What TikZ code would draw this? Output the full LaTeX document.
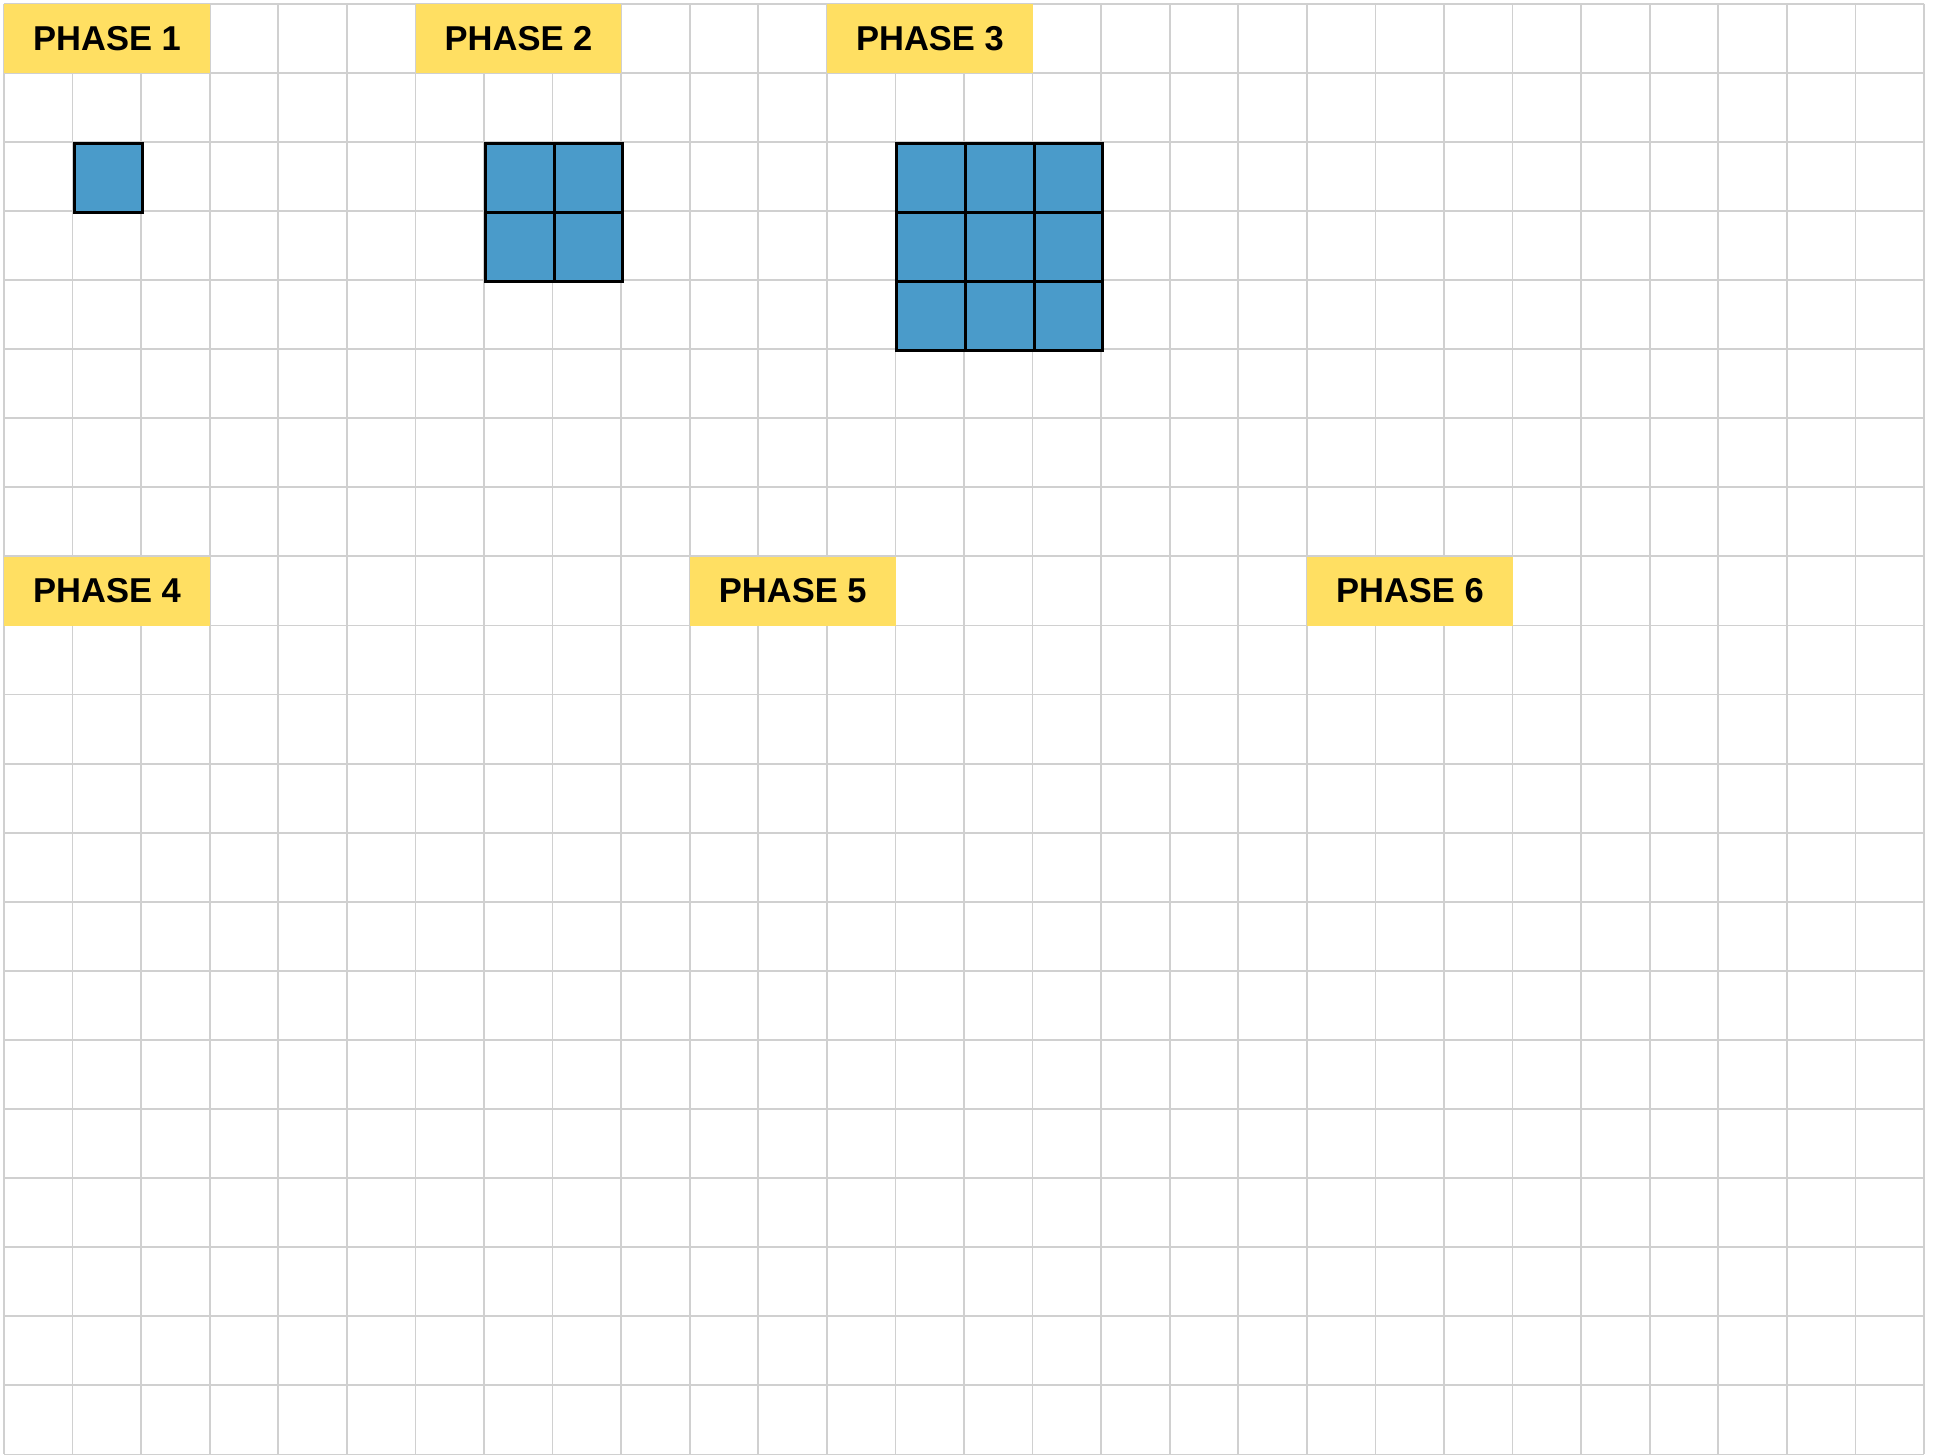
\documentclass[tikz,border=0pt]{standalone}
\usepackage{fontspec}
\setmainfont{Liberation Sans}
\definecolor{gridgray}{HTML}{D0D0D0}
\definecolor{phaseyellow}{HTML}{FFDF62}
\definecolor{cellblue}{HTML}{4A9BCA}
\begin{document}
\begin{tikzpicture}[x=68.57pt, y=-69.08pt,
  gridline/.style={draw=gridgray, line width=1.8pt},
  phase/.style={fill=phaseyellow, draw=none, anchor=north west, inner sep=0pt,
    minimum width=205.71pt, minimum height=69.08pt,
    font=\fontsize{34.5}{34.5}\selectfont\bfseries},
  bluecell/.style={fill=cellblue, draw=black, line width=3pt, anchor=north west,
    inner sep=0pt, minimum width=68.57pt, minimum height=69.08pt}]
\useasboundingbox (-0.0583,-0.0536) rectangle (28.175,20.995);
\fill[white] (-0.0583,-0.0536) rectangle (28.175,20.995);
% grid
\foreach \c in {0,...,28} \draw[gridline] (\c,0) -- (\c,21);
\foreach \r in {0,...,21} \draw[gridline] (0,\r) -- (28,\r);
% phase labels
\node[phase] (p1) at (0,0) {PHASE 1};
\node[phase] (p2) at (6,0) {PHASE 2};
\node[phase] (p3) at (12,0) {PHASE 3};
\node[phase] (p4) at (0,8) {PHASE 4};
\node[phase] (p5) at (10,8) {PHASE 5};
\node[phase] (p6) at (19,8) {PHASE 6};
% phase 1 block
\node[bluecell] (a11) at (1,2) {};
% phase 2 block
\foreach \i in {0,1} \foreach \j in {0,1}
  \node[bluecell] (b\i\j) at (7+\i,2+\j) {};
% phase 3 block
\foreach \i in {0,1,2} \foreach \j in {0,1,2}
  \node[bluecell] (c\i\j) at (13+\i,2+\j) {};
\end{tikzpicture}
\end{document}
